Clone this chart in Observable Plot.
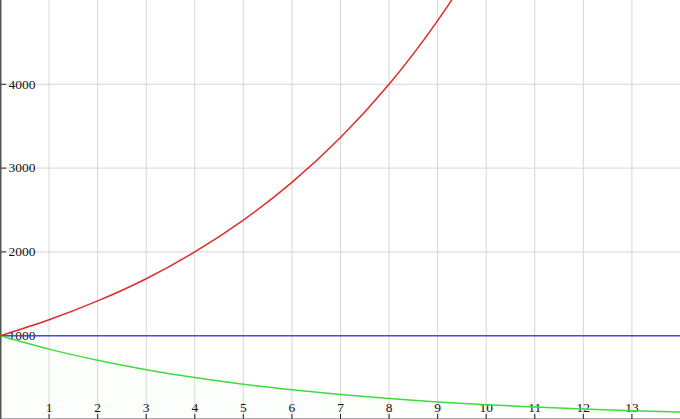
<!DOCTYPE html>
<html>
<head>
<meta charset="utf-8">
<script src="https://cdn.jsdelivr.net/npm/d3@7"></script>
<script src="https://cdn.jsdelivr.net/npm/@observablehq/plot@0.6"></script>
<style>
  html, body { margin: 0; padding: 0; background: #fff; }
  svg { display: block; }
</style>
</head>
<body>
<div id="chart"></div>
<script>
const xs = [0, 1, 2, 3, 4, 5, 6, 7, 8, 9, 10, 11, 12, 13, 14];
const growth = [1000, 1190, 1415, 1680, 2000, 2380, 2830, 3365, 4000, 4760, 5660, 6730, 8000, 9510, 11310];
const constant = [1000, 1000, 1000, 1000, 1000, 1000, 1000, 1000, 1000, 1000, 1000, 1000, 1000, 1000, 1000];
const decay = [1000, 840, 707, 595, 500, 420, 354, 297, 250, 210, 177, 149, 125, 105, 88];
const xTicks = [1, 2, 3, 4, 5, 6, 7, 8, 9, 10, 11, 12, 13];
const yTicks = [1000, 2000, 3000, 4000];

const rows = (ys) => xs.map((x, i) => ({x, y: ys[i]}));

const chart = Plot.plot({
  width: 680,
  height: 419,
  margin: 0,
  style: {fontFamily: "'Liberation Serif', serif", fontSize: "13.5px", background: "#fff", color: "#111"},
  x: {domain: [0, 14], label: null},
  y: {domain: [0, 5000], label: null},
  marks: [
    Plot.areaY(rows(decay), {x: "x", y: "y", fill: "#40d840", fillOpacity: 0.015, curve: "natural", clip: true}),
    Plot.gridX(xTicks, {stroke: "#d6d6d6", strokeOpacity: 1}),
    Plot.gridY(yTicks, {stroke: "#d6d6d6", strokeOpacity: 1}),
    Plot.axisX(xTicks, {anchor: "top", frameAnchor: "bottom", tickSize: 6, tickPadding: 2, stroke: "#222", fill: "#111", fontSize: 13.5, label: null, tickFormat: d3.format("d")}),
    Plot.axisY(yTicks, {anchor: "right", frameAnchor: "left", tickSize: 5, tickPadding: 3, stroke: "#222", fill: "#111", fontSize: 13.5, textAnchor: "start", label: null, tickFormat: d3.format("d")}),
    Plot.ruleX([0], {stroke: "#555", strokeWidth: 2}),
    Plot.ruleY([0], {stroke: "#555", strokeWidth: 2}),
    Plot.line(rows(constant), {x: "x", y: "y", stroke: "#4646f0", strokeWidth: 1.6, clip: true}),
    Plot.line(rows(decay), {x: "x", y: "y", stroke: "#3ddc3d", strokeWidth: 1.5, curve: "natural", clip: true}),
    Plot.line(rows(growth), {x: "x", y: "y", stroke: "#e02a2a", strokeWidth: 1.5, curve: "natural", clip: true})
  ]
});
document.getElementById("chart").appendChild(chart);
</script>
</body>
</html>
